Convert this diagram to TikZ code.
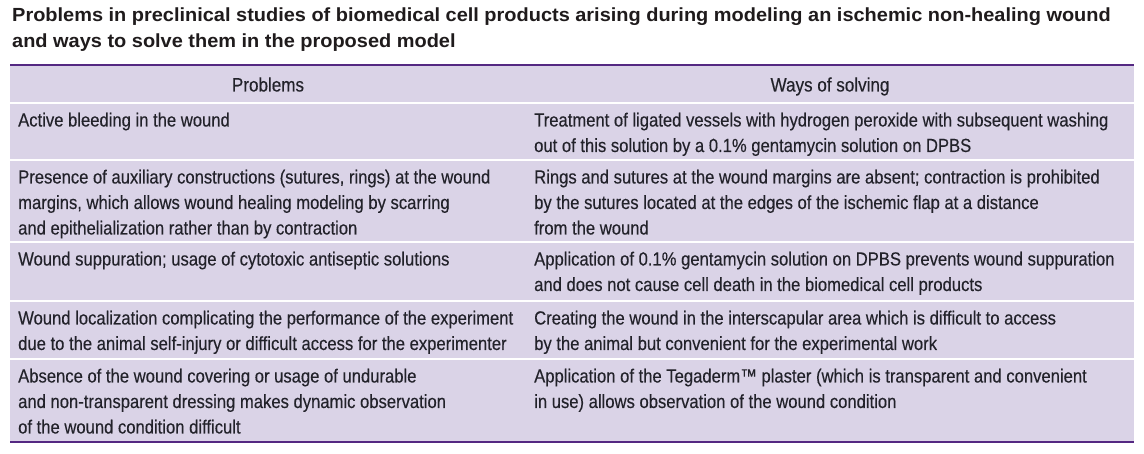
\documentclass[tikz,border=0pt]{standalone}
\usepackage{fontspec}
\setmainfont{Liberation Sans}
\newfontfamily\narrowfont[FakeStretch=0.875,FakeBold=0.3]{Liberation Sans}
\newfontfamily\titlefont[FakeStretch=1.05]{Liberation Sans}
\definecolor{cellbg}{HTML}{DAD3E7}
\definecolor{rulepurple}{HTML}{542882}
\definecolor{txt}{HTML}{22222A}
\definecolor{titletxt}{HTML}{1F1B1C}
\tikzset{
  cell/.style={anchor=base west, inner sep=0pt, text=txt,
    font=\narrowfont\fontsize{19bp}{25.5bp}\selectfont},
  headcell/.style={anchor=base, inner sep=0pt, text=txt,
    font=\narrowfont\fontsize{19.5bp}{25bp}\selectfont},
  titletext/.style={anchor=base west, inner sep=0pt, text=titletxt,
    font=\titlefont\bfseries\fontsize{19bp}{25.2bp}\selectfont},
  rowfill/.style={fill=cellbg},
  tablerule/.style={fill=rulepurple}
}
\newcommand{\celltext}[1]{\parbox[t]{590bp}{\raggedright #1}}
\begin{document}
\begin{tikzpicture}[x=1bp,y=-1bp]
\useasboundingbox (0,0) rectangle (1144,454);
\fill[white] (0,0) rectangle (1144,454);
% title
\node[titletext] (title) at (12,22) {\parbox[t]{1130bp}{\raggedright Problems in preclinical studies of biomedical cell products arising during modeling an ischemic non-healing wound\\and ways to solve them in the proposed model}};
% row fills
\fill[rowfill] (10,66) rectangle (1134,102.5);
\fill[rowfill] (10,104.5) rectangle (1134,159);
\fill[rowfill] (10,161) rectangle (1134,241.5);
\fill[rowfill] (10,243.5) rectangle (1134,300);
\fill[rowfill] (10,302) rectangle (1134,358.5);
\fill[rowfill] (10,360.5) rectangle (1134,441.5);
% rules
\fill[tablerule] (10,64) rectangle (1134,66.5);
\fill[tablerule] (10,441) rectangle (1134,443.5);
% header
\node[headcell] (hprob) at (268,91.5) {Problems};
\node[headcell] (hways) at (830,91.5) {Ways of solving};
% row 1
\node[cell] (p1) at (18,126.5) {\celltext{Active bleeding in the wound}};
\node[cell] (s1) at (534,126.5) {\celltext{Treatment of ligated vessels with hydrogen peroxide with subsequent washing\\out of this solution by a 0.1\% gentamycin solution on DPBS}};
% row 2
\node[cell] (p2) at (18,183.5) {\celltext{Presence of auxiliary constructions (sutures, rings) at the wound\\margins, which allows wound healing modeling by scarring\\and epithelialization rather than by contraction}};
\node[cell] (s2) at (534,183.5) {\celltext{Rings and sutures at the wound margins are absent; contraction is prohibited\\by the sutures located at the edges of the ischemic flap at a distance\\from the wound}};
% row 3
\node[cell] (p3) at (18,265.5) {\celltext{Wound suppuration; usage of cytotoxic antiseptic solutions}};
\node[cell] (s3) at (534,265.5) {\celltext{Application of 0.1\% gentamycin solution on DPBS prevents wound suppuration\\and does not cause cell death in the biomedical cell products}};
% row 4
\node[cell] (p4) at (18,324.5) {\celltext{Wound localization complicating the performance of the experiment\\due to the animal self-injury or difficult access for the experimenter}};
\node[cell] (s4) at (534,324.5) {\celltext{Creating the wound in the interscapular area which is difficult to access\\by the animal but convenient for the experimental work}};
% row 5
\node[cell] (p5) at (18,382.5) {\celltext{Absence of the wound covering or usage of undurable\\and non-transparent dressing makes dynamic observation\\of the wound condition difficult}};
\node[cell] (s5) at (534,382.5) {\celltext{Application of the Tegaderm™ plaster (which is transparent and convenient\\in use) allows observation of the wound condition}};
\end{tikzpicture}
\end{document}
